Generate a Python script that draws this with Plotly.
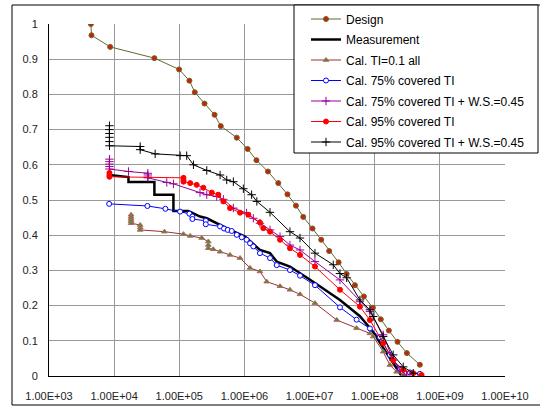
import plotly.graph_objects as go

# ---------------- data ----------------
design_x = [4.40e3, 4.49e3, 8.69e3, 4.15e4, 9.93e4, 1.43e5, 1.73e5, 2.44e5, 3.48e5, 4.33e5,
            7.64e5, 1.12e6, 1.53e6, 2.30e6, 3.31e6, 4.58e6, 6.18e6, 8.0e6, 1.11e7, 1.51e7,
            2.0e7, 2.79e7, 3.71e7, 4.97e7, 6.82e7, 9.38e7, 1.24e8, 1.65e8, 2.24e8, 3.12e8, 4.93e8]
design_y = [1.0, 0.968, 0.935, 0.903, 0.871, 0.839, 0.806, 0.774, 0.742, 0.710,
            0.677, 0.645, 0.613, 0.581, 0.548, 0.516, 0.484, 0.452, 0.419, 0.387,
            0.355, 0.323, 0.290, 0.258, 0.226, 0.194, 0.161, 0.129, 0.097, 0.065, 0.032]

meas_x = [8.38e3, 1.66e4, 1.66e4, 4.15e4, 4.15e4, 8.13e4, 8.13e4, 1.38e5, 2.08e5, 2.64e5,
          6.01e5, 1.02e6, 1.73e6, 2.47e6, 3.13e6, 5.0e6, 1.21e7, 2.93e7, 5.93e7, 9.48e7,
          1.35e8, 1.92e8, 2.59e8]
meas_y = [0.571, 0.565, 0.551, 0.551, 0.515, 0.515, 0.469, 0.469, 0.453, 0.448,
          0.415, 0.396, 0.358, 0.349, 0.325, 0.311, 0.264, 0.216, 0.170, 0.125,
          0.080, 0.036, 0.0]

ti01_x = [1.82e4, 1.82e4, 1.82e4, 1.82e4, 1.82e4, 2.51e4, 2.51e4, 2.51e4, 5.91e4, 1.16e5,
          1.47e5, 2.21e5, 2.79e5, 2.79e5, 2.79e5, 3.33e5, 4.23e5, 6.01e5, 8.57e5, 1.22e6,
          1.73e6, 2.20e6, 3.52e6, 5.0e6, 7.13e6, 1.21e7, 2.61e7, 5.27e7, 8.44e7, 9.48e7,
          1.35e8, 1.71e8, 2.17e8, 2.74e8]
ti01_y = [0.458, 0.452, 0.446, 0.440, 0.434, 0.429, 0.422, 0.415, 0.410, 0.403,
          0.398, 0.392, 0.382, 0.372, 0.363, 0.360, 0.353, 0.344, 0.335, 0.307,
          0.297, 0.268, 0.255, 0.245, 0.232, 0.207, 0.159, 0.136, 0.121, 0.112,
          0.069, 0.031, 0.012, 0.003]

c75_x = [8.38e3, 3.24e4, 6.12e4, 1.03e5, 1.43e5, 1.59e5, 1.59e5, 2.55e5, 2.55e5, 4.23e5,
         4.86e5, 5.54e5, 6.38e5, 7.62e5, 9.1e5, 1.08e6, 1.22e6, 1.37e6, 1.73e6, 2.47e6,
         3.13e6, 5.0e6, 7.13e6, 1.21e7, 2.93e7, 5.27e7, 8.44e7, 1.2e8, 1.71e8, 2.44e8,
         3.47e8, 4.93e8]
c75_y = [0.489, 0.483, 0.475, 0.467, 0.461, 0.453, 0.446, 0.441, 0.431, 0.425,
         0.419, 0.415, 0.412, 0.401, 0.394, 0.387, 0.377, 0.368, 0.349, 0.335,
         0.315, 0.301, 0.285, 0.258, 0.195, 0.160, 0.135, 0.110, 0.060, 0.020,
         0.010, 0.006]

c75ws_x = [8.47e3, 8.47e3, 8.47e3, 8.47e3, 8.47e3, 1.66e4, 3.29e4, 3.29e4, 3.29e4, 3.29e4,
           6.43e4, 8.13e4, 2.08e5, 2.64e5, 3.76e5, 4.75e5, 6.76e5, 1.08e6, 1.37e6, 1.73e6,
           2.47e6, 3.52e6, 5.0e6, 7.13e6, 1.21e7, 2.93e7, 5.93e7, 8.44e7, 1.35e8, 1.92e8,
           2.44e8, 3.08e8]
c75ws_y = [0.616, 0.609, 0.602, 0.595, 0.588, 0.581, 0.576, 0.571, 0.565, 0.563,
           0.550, 0.546, 0.521, 0.515, 0.510, 0.502, 0.477, 0.463, 0.448, 0.434,
           0.415, 0.396, 0.372, 0.358, 0.325, 0.273, 0.211, 0.183, 0.117, 0.045,
           0.017, 0.003]

c95_x = [8.47e3, 8.47e3, 8.47e3, 1.16e5, 1.16e5, 1.16e5, 1.47e5, 1.85e5, 2.34e5, 3.15e5,
         3.98e5, 4.75e5, 6.01e5, 8.57e5, 1.15e6, 1.73e6, 1.95e6, 2.47e6, 3.52e6, 5.0e6,
         7.13e6, 1.21e7, 2.93e7, 5.93e7, 8.44e7, 1.35e8, 1.92e8, 2.74e8, 3.9e8, 5.24e8]
c95_y = [0.577, 0.571, 0.566, 0.563, 0.557, 0.552, 0.548, 0.543, 0.535, 0.521,
         0.515, 0.496, 0.477, 0.464, 0.458, 0.436, 0.420, 0.410, 0.387, 0.363,
         0.344, 0.311, 0.245, 0.197, 0.159, 0.093, 0.045, 0.017, 0.008, 0.003]

c95ws_x = [8.47e3, 8.47e3, 8.47e3, 8.47e3, 8.47e3, 8.47e3, 2.51e4, 2.51e4, 4.26e4, 1.03e5,
           1.30e5, 1.65e5, 2.64e5, 4.23e5, 5.35e5, 6.76e5, 9.62e5, 1.29e6, 1.55e6, 2.47e6,
           5.0e6, 7.13e6, 1.21e7, 2.31e7, 2.93e7, 3.71e7, 5.93e7, 8.44e7, 9.48e7, 1.35e8,
           1.92e8, 2.74e8, 3.9e8]
c95ws_y = [0.711, 0.700, 0.689, 0.678, 0.666, 0.654, 0.652, 0.643, 0.631, 0.626,
           0.626, 0.600, 0.584, 0.571, 0.557, 0.552, 0.532, 0.515, 0.496, 0.465,
           0.410, 0.392, 0.349, 0.316, 0.291, 0.279, 0.216, 0.188, 0.169, 0.112,
           0.060, 0.026, 0.008]

x_tickvals = [1e3, 1e4, 1e5, 1e6, 1e7, 1e8, 1e9, 1e10]
x_ticktext = ["1.00E+03", "1.00E+04", "1.00E+05", "1.00E+06",
              "1.00E+07", "1.00E+08", "1.00E+09", "1.00E+10"]
y_tickvals = [0, 0.1, 0.2, 0.3, 0.4, 0.5, 0.6, 0.7, 0.8, 0.9, 1.0]
y_ticktext = ["0", "0.1", "0.2", "0.3", "0.4", "0.5", "0.6", "0.7", "0.8", "0.9", "1"]

# ---------------- figure ----------------
FONT = "Arial, Liberation Sans, sans-serif"
fig = go.Figure()

series = [
    dict(x=design_x, y=design_y, name="Design", mode="lines+markers",
         line=dict(color="#666633", width=1),
         marker=dict(symbol="circle", size=5, color="#cc2200", line=dict(color="#666633", width=1))),
    dict(x=meas_x, y=meas_y, name="Measurement", mode="lines",
         line=dict(color="#000000", width=2.5)),
    dict(x=ti01_x, y=ti01_y, name="Cal. TI=0.1 all", mode="lines+markers",
         line=dict(color="#993333", width=1),
         marker=dict(symbol="triangle-up", size=5, color="#339933", line=dict(color="#c06060", width=1))),
    dict(x=c75_x, y=c75_y, name="Cal. 75% covered TI", mode="lines+markers",
         line=dict(color="#0000ff", width=1),
         marker=dict(symbol="circle", size=5, color="#ffffff", line=dict(color="#0000ff", width=1))),
    dict(x=c75ws_x, y=c75ws_y, name="Cal. 75% covered TI + W.S.=0.45", mode="lines+markers",
         line=dict(color="#990099", width=1),
         marker=dict(symbol="cross-thin-open", size=6, color="#990099", line=dict(color="#990099", width=1))),
    dict(x=c95_x, y=c95_y, name="Cal. 95% covered TI", mode="lines+markers",
         line=dict(color="#ff0000", width=1),
         marker=dict(symbol="circle", size=5, color="#ff0000", line=dict(color="#ff0000", width=1))),
    dict(x=c95ws_x, y=c95ws_y, name="Cal. 95% covered TI + W.S.=0.45", mode="lines+markers",
         line=dict(color="#000000", width=1),
         marker=dict(symbol="cross-thin-open", size=6, color="#000000", line=dict(color="#000000", width=1))),
]
for i, s in enumerate(series):
    fig.add_trace(go.Scatter(legendgroup="g%d" % i, **s))

L, R, T, B = 49, 35, 24, 38
W, H = 540, 414
pw, ph = W - L - R, H - T - B


def px(x):
    return (x - L) / pw


def py(y):
    return (H - B - y) / ph


fig.update_layout(
    width=W, height=H,
    margin=dict(l=L, r=R, t=T, b=B, pad=0, autoexpand=False),
    paper_bgcolor="white", plot_bgcolor="white",
    font=dict(family=FONT, size=11, color="#000000"),
    showlegend=True,
    legend=dict(
        x=px(306), y=py(4.5), xanchor="left", yanchor="top",
        bgcolor="rgba(0,0,0,0)", borderwidth=0,
        font=dict(family=FONT, size=12, color="#000000"),
        tracegroupgap=1.5,
    ),
    shapes=[
        dict(type="rect", xref="paper", yref="paper",
             x0=px(12), x1=px(560), y0=py(405), y1=py(5),
             line=dict(color="#000000", width=1), fillcolor="rgba(0,0,0,0)", layer="below"),
        dict(type="rect", xref="paper", yref="paper",
             x0=px(294), x1=px(538), y0=py(153), y1=py(5),
             line=dict(color="#000000", width=1), fillcolor="#ffffff", layer="above"),
    ],
)

fig.update_xaxes(
    type="log", range=[3, 10],
    tickvals=x_tickvals, ticktext=x_ticktext,
    showgrid=True, gridcolor="#999999", gridwidth=1,
    showline=True, linecolor="#000000", linewidth=1,
    ticks="", zeroline=False, ticklabelstandoff=10, automargin=False,
    tickfont=dict(family=FONT, size=11, color="#222222"),
)
fig.update_yaxes(
    range=[0, 1],
    tickvals=y_tickvals, ticktext=y_ticktext,
    showgrid=True, gridcolor="#999999", gridwidth=1,
    showline=True, linecolor="#000000", linewidth=1,
    ticks="", zeroline=False, ticklabelstandoff=8, automargin=False,
    tickfont=dict(family=FONT, size=11, color="#222222"),
)

fig.write_html("out.html",
               config={"displayModeBar": False},
               post_script="document.body.style.margin='0px';document.body.style.padding='0px';")
